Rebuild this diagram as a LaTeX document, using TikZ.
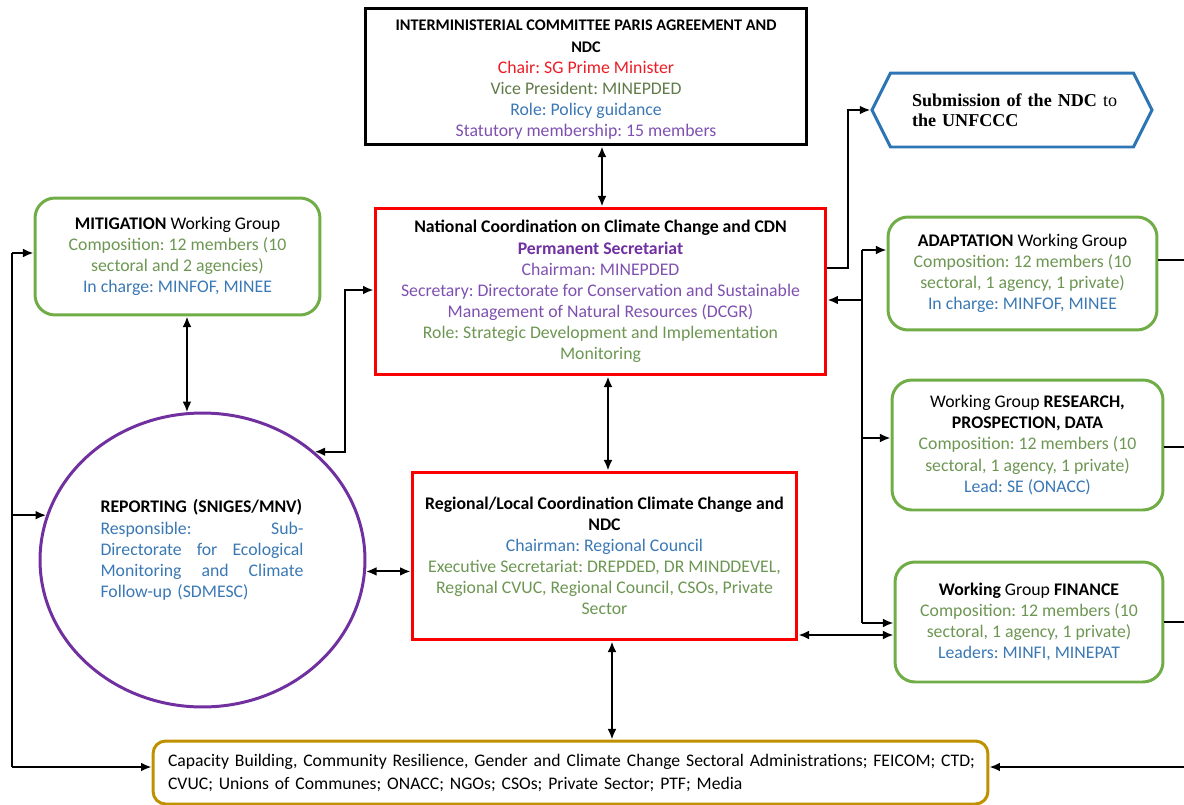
\documentclass[tikz,border=0pt]{standalone}
\usepackage{fontspec}
\setmainfont{Carlito}
\newfontfamily\timesfont{Liberation Serif}
\usetikzlibrary{arrows.meta,shapes.geometric,shapes.symbols}
\frenchspacing
\definecolor{tgreen}{RGB}{108,150,82}
\definecolor{tolive}{RGB}{96,122,72}
\definecolor{tblue}{RGB}{58,120,180}
\definecolor{tpurple}{RGB}{126,80,176}
\definecolor{dpurple}{RGB}{112,48,160}
\definecolor{tred}{RGB}{236,28,36}
\definecolor{bgreen}{RGB}{112,173,71}
\definecolor{bred}{RGB}{250,0,0}
\definecolor{bgold}{RGB}{191,144,0}
\definecolor{bblue}{RGB}{46,117,182}
\tikzset{
  txt/.style={font=\fontsize{10.1}{12}\selectfont, align=center, inner sep=0pt},
  redbox/.style={txt, draw=bred, line width=1.7pt, rectangle},
  greenbox/.style={txt, draw=bgreen, line width=1.7pt, rectangle, rounded corners=0.4cm},
  conn/.style={line width=1.1pt, black},
  arr/.style={conn, -{Latex[length=6pt,width=5pt]}},
  darr/.style={conn, {Latex[length=6pt,width=5pt]}-{Latex[length=6pt,width=5pt]}},
}
\begin{document}
\frenchspacing
\begin{tikzpicture}[x=0.02cm, y=-0.02cm]
\useasboundingbox (0,0) rectangle (1184,805);

% top box
\node[txt, draw=black, line width=1.7pt, minimum width=8.84cm, minimum height=2.74cm] (top) at (586,76.5) {%
\rule{0pt}{9.8pt}{\fontsize{9.23}{12}\selectfont\textbf{INTERMINISTERIAL COMMITTEE PARIS AGREEMENT AND}}\\
{\fontsize{9.23}{12}\selectfont\textbf{NDC}}\\
\textcolor{tred}{Chair: SG Prime Minister}\\
\textcolor{tolive}{Vice President: MINEPDED}\\
\textcolor{tblue}{Role: Policy guidance}\\
\textcolor{tpurple}{Statutory membership: 15 members}};

% submission hexagon
\node[signal, signal to=east and west, signal pointer angle=127, draw=bblue, line width=1.7pt,
  minimum width=5.6cm, minimum height=1.48cm, inner sep=0pt, text width=4.6cm, align=left,
  font=\timesfont\fontsize{10.3}{11.5}\selectfont] (hex) at (1012,110) {%
\hspace*{0.3cm}\textbf{Submission of the NDC} to\\\hspace*{0.3cm}\textbf{the UNFCCC}};

% mitigation
\node[greenbox, minimum width=5.7cm, minimum height=2.34cm] (mit) at (177.5,256.5) {%
\textbf{MITIGATION} Working Group\\
\textcolor{tgreen}{Composition: 12 members (10}\\
\textcolor{tgreen}{sectoral and 2 agencies)}\\
\textcolor{tblue}{In charge: MINFOF, MINEE}};

% national coordination
\node[redbox, minimum width=9.02cm, minimum height=3.34cm] (nat) at (600.5,291.5) {%
\textbf{National Coordination on Climate Change and CDN}\\
\textcolor{dpurple}{\textbf{Permanent Secretariat}}\\
\textcolor{tpurple}{Chairman: MINEPDED}\\
\textcolor{tpurple}{Secretary: Directorate for Conservation and Sustainable}\\
\textcolor{tpurple}{Management of Natural Resources (DCGR)}\\
\textcolor{tgreen}{Role: Strategic Development and Implementation}\\
\textcolor{tgreen}{Monitoring}};

% adaptation
\node[greenbox, minimum width=5.38cm, minimum height=2.26cm] (ada) at (1022.5,273.5) {%
\textbf{ADAPTATION} Working Group\\
\textcolor{tgreen}{Composition: 12 members (10}\\
\textcolor{tgreen}{sectoral, 1 agency, 1 private)}\\
\textcolor{tblue}{In charge: MINFOF, MINEE}};

% research
\node[greenbox, minimum width=5.42cm, minimum height=2.6cm] (res) at (1027.5,445) {%
Working Group \textbf{RESEARCH,}\\
\textbf{PROSPECTION, DATA}\\
\textcolor{tgreen}{Composition: 12 members (10}\\
\textcolor{tgreen}{sectoral, 1 agency, 1 private)}\\
\textcolor{tblue}{Lead: SE (ONACC)}};

% finance
\node[greenbox, minimum width=5.36cm, minimum height=2.4cm] (fin) at (1029,622) {%
\textbf{Working} Group \textbf{FINANCE}\\
\textcolor{tgreen}{Composition: 12 members (10}\\
\textcolor{tgreen}{sectoral, 1 agency, 1 private)}\\
\textcolor{tblue}{Leaders: MINFI, MINEPAT}};

% regional
\node[redbox, minimum width=7.7cm, minimum height=3.36cm] (reg) at (604.5,556) {%
\textbf{Regional/Local Coordination Climate Change and}\\
\textbf{NDC}\\
\textcolor{tblue}{Chairman: Regional Council}\\
\textcolor{tgreen}{Executive Secretariat: DREPDED, DR MINDDEVEL,}\\
\textcolor{tgreen}{Regional CVUC, Regional Council, CSOs, Private}\\
\textcolor{tgreen}{Sector}};

% reporting ellipse
\node[ellipse, draw=dpurple, line width=1.7pt, minimum width=6.5cm, minimum height=5.88cm, inner sep=0pt] (rep) at (202.5,560) {};
\node[txt, text width=4.06cm, align=left] (reptxt) at (202,550) {%
\textbf{REPORTING (SNIGES/MNV)}\\
\textcolor{tblue}{\hbox to 4.06cm{Responsible:\hfill Sub-}}\\
\textcolor{tblue}{\hbox to 4.06cm{Directorate\hfill for\hfill Ecological}}\\
\textcolor{tblue}{\hbox to 4.06cm{Monitoring\hfill and\hfill Climate}}\\
\textcolor{tblue}{Follow-up (SDMESC)}};

% bottom box
\node[txt, draw=bgold, line width=1.7pt, rounded corners=0.25cm, minimum width=16.7cm, minimum height=1.26cm,
  text width=16.3cm, align=left, font=\fontsize{10.05}{13.1}\selectfont] (bot) at (570.5,772.5) {%
\hspace*{0.1cm}Capacity Building, Community Resilience, Gender and Climate Change Sectoral Administrations; FEICOM; CTD;\\
\hspace*{0.1cm}CVUC; Unions of Communes; ONACC; NGOs; CSOs; Private Sector; PTF; Media};

% ---- connectors ----
\draw[darr] (nat.north -| 602,0) -- (top.south -| 602,0);

\coordinate (hx) at (848,268);
\draw[arr] (hx -| nat.east) -- (hx) |- (hex.west);

% right rail of national coordination
\coordinate (r1) at (862,250);
\coordinate (r2) at (862,300);
\coordinate (r3) at (862,438);
\coordinate (r4) at (862,623);
\draw[conn] (r1) -- (r4);
\draw[arr] (r1) -- (r1 -| ada.west);
\draw[arr] (r2) -- (r2 -| nat.east);
\draw[arr] (r3) -- (r3 -| res.west);
\draw[arr] (r4) -- (r4 -| fin.west);
\coordinate (rf) at (0,635);
\draw[darr] (rf -| reg.east) -- (rf -| fin.west);

% vertical links
\draw[darr] (mit.south -| rep.96.8) -- (rep.96.8);
\draw[darr] (nat.south -| 608,0) -- (reg.north -| 608,0);
\draw[darr] (reg.south -| 612,0) -- (bot.north -| 612,0);

% reporting to national
\coordinate (cn) at (345,290);
\draw[darr] (rep.44.6) -- (rep.44.6 -| cn) -- (cn) -- (cn -| nat.west);
% reporting to regional
\draw[darr] (rep.-4.6) -- (rep.-4.6 -| reg.west);

% left rail
\coordinate (l1) at (12,253);
\coordinate (l3) at (12,767);
\draw[conn] (l1) -- (l3);
\draw[arr] (l1) -- (l1 -| mit.west);
\draw[arr] (rep.164.9 -| l1) -- (rep.164.9);
\draw[arr] (l3) -- (l3 -| bot.west);

% right rail (beyond the page edge)
\coordinate (q1) at (1192,260);
\coordinate (q2) at (1192,447);
\coordinate (q3) at (1192,622);
\coordinate (q4) at (1192,767);
\draw[conn] (q1) -- (q4);
\draw[conn] (q1 -| ada.east) -- (q1);
\draw[conn] (q2 -| res.east) -- (q2);
\draw[conn] (q3 -| fin.east) -- (q3);
\draw[arr] (q4) -- (q4 -| bot.east);
\end{tikzpicture}
\end{document}
